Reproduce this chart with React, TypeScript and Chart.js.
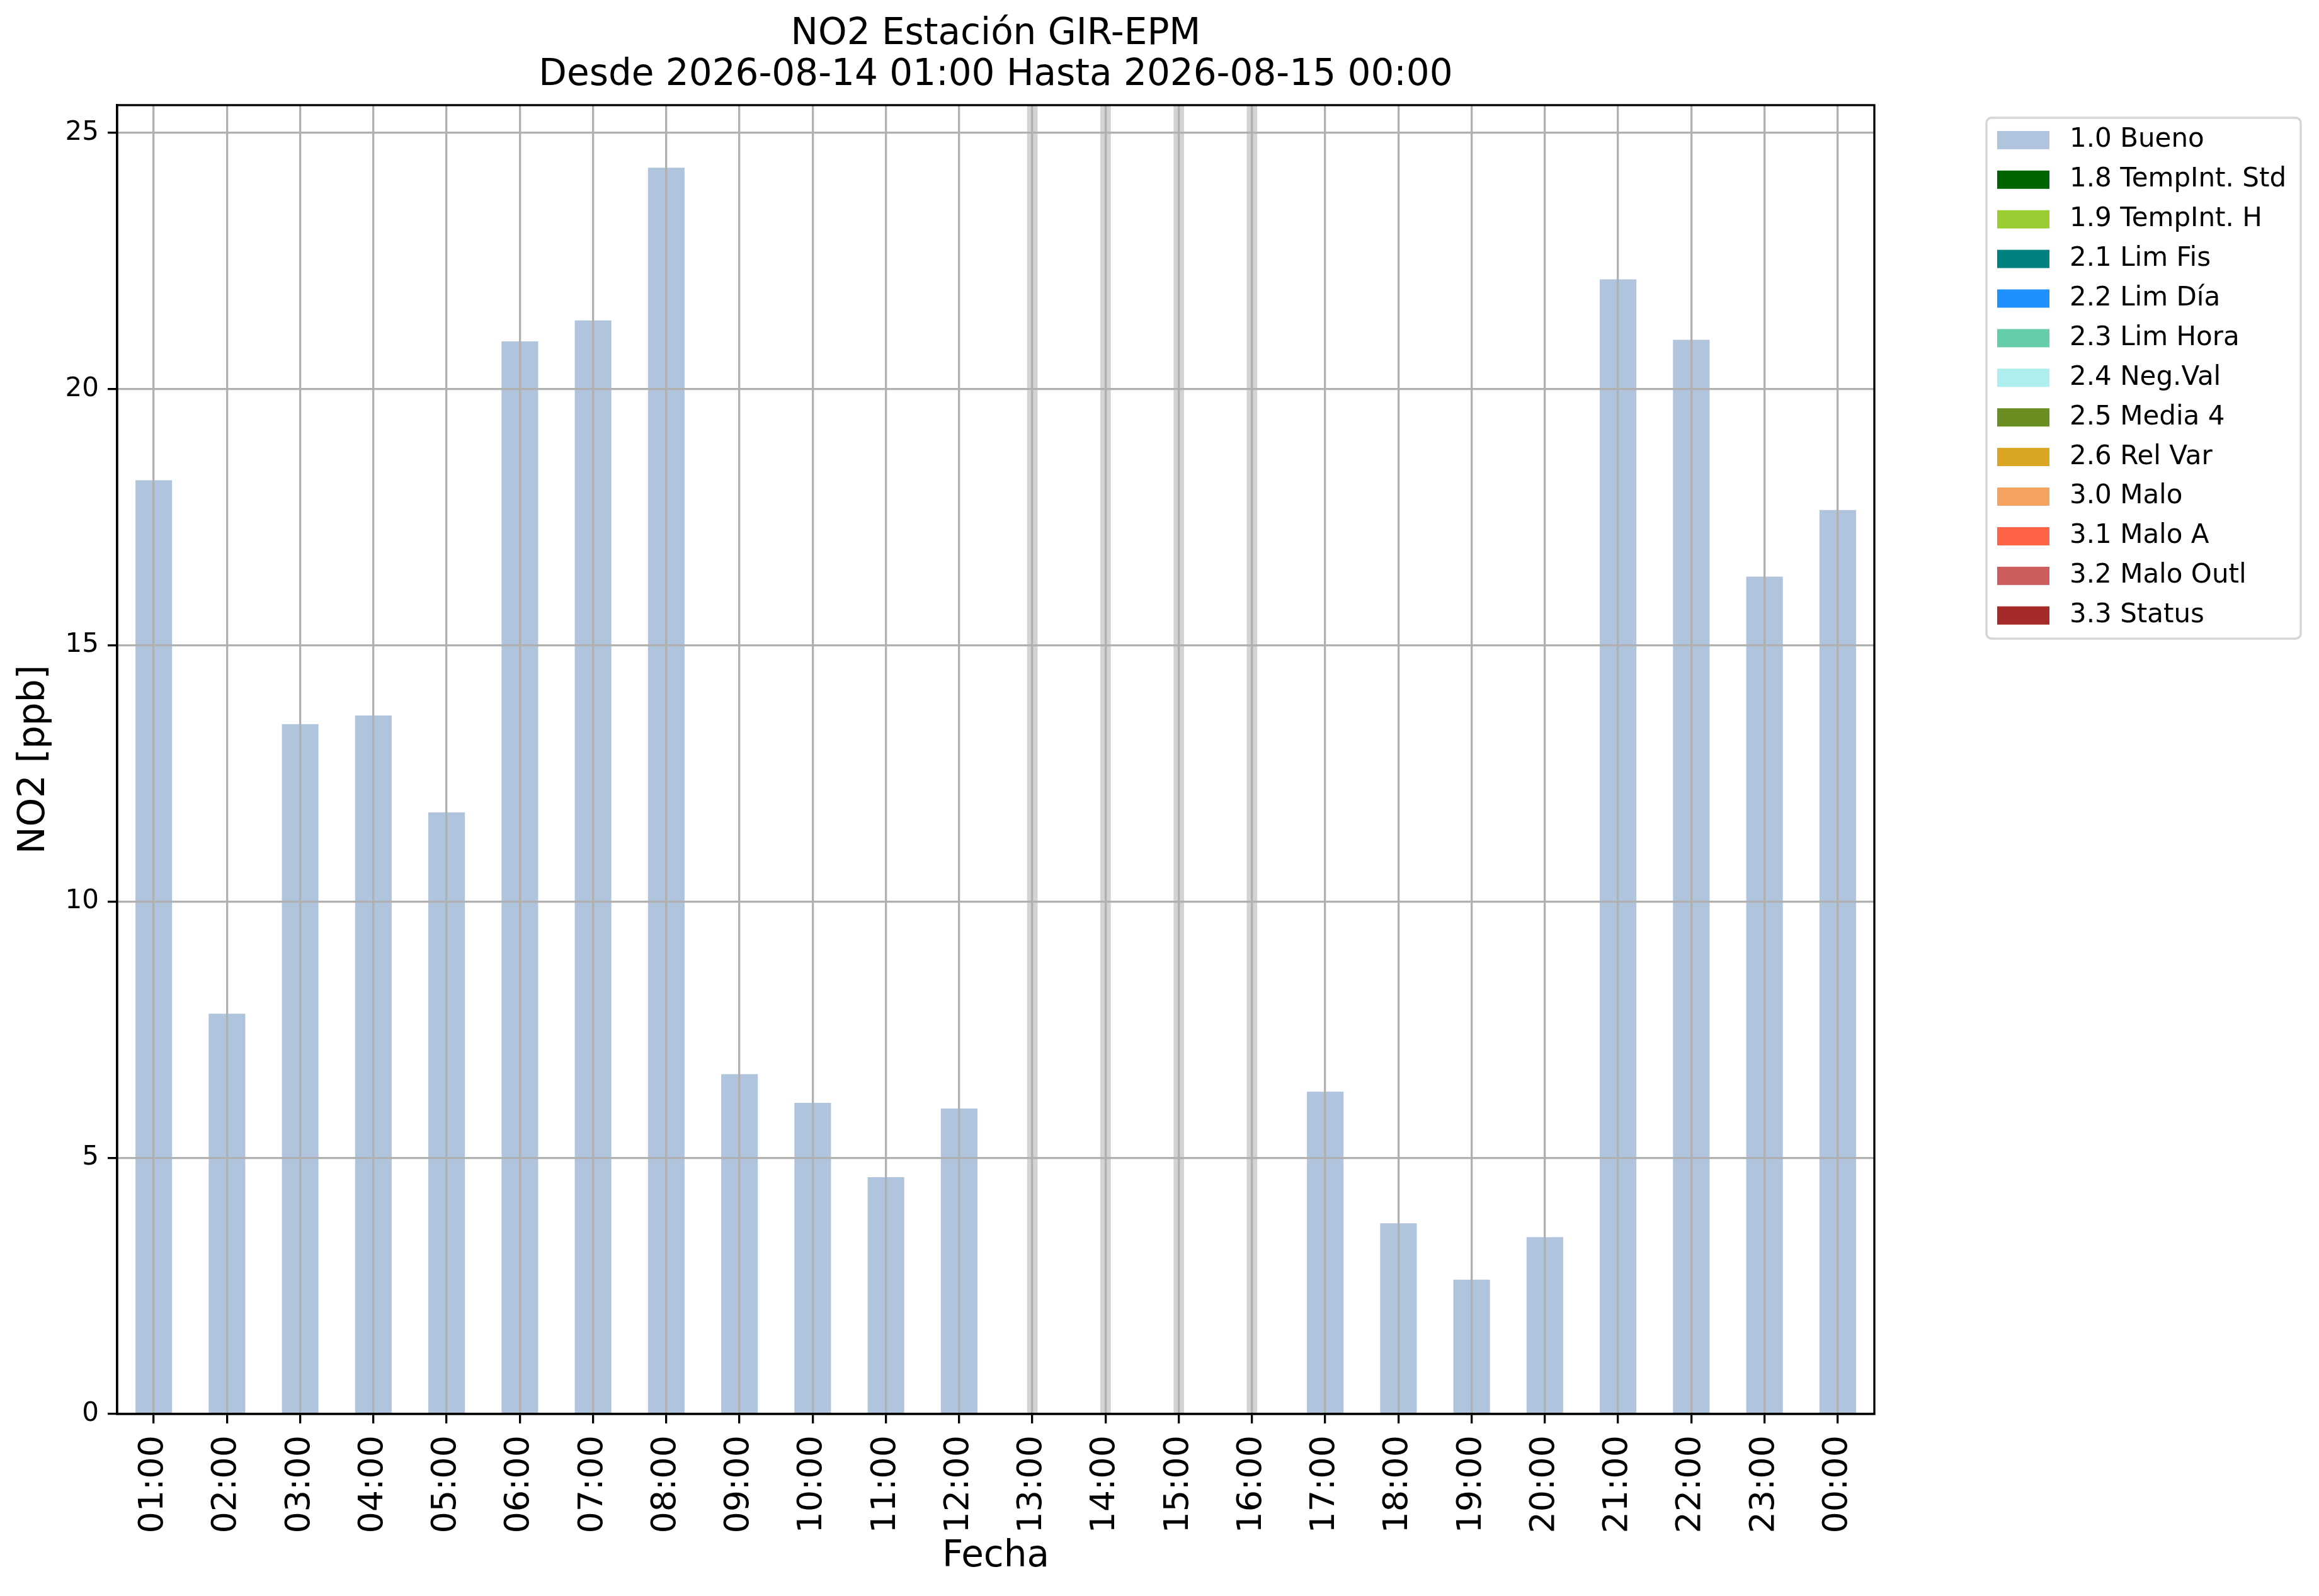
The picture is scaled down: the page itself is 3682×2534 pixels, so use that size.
import React, { useEffect, useRef } from 'react';
import { Chart, registerables } from 'chart.js';

Chart.register(...registerables);

const HOURS = [
  '01:00', '02:00', '03:00', '04:00', '05:00', '06:00', '07:00', '08:00',
  '09:00', '10:00', '11:00', '12:00', '13:00', '14:00', '15:00', '16:00',
  '17:00', '18:00', '19:00', '20:00', '21:00', '22:00', '23:00', '00:00',
];

const NO2_VALUES: (number | null)[] = [
  18.22, 7.81, 13.46, 13.63, 11.74, 20.93, 21.34, 24.32,
  6.63, 6.07, 4.62, 5.96, null, null, null, null,
  6.29, 3.72, 2.62, 3.45, 22.14, 20.96, 16.34, 17.64,
];

const QUALITY_FLAGS: (string | null)[] = [
  '1.0', '1.0', '1.0', '1.0', '1.0', '1.0', '1.0', '1.0',
  '1.0', '1.0', '1.0', '1.0', null, null, null, null,
  '1.0', '1.0', '1.0', '1.0', '1.0', '1.0', '1.0', '1.0',
];

const MISSING_HOURS = ['13:00', '14:00', '15:00', '16:00'];

const CATEGORY_CODES = ['1.0', '1.8', '1.9', '2.1', '2.2', '2.3', '2.4', '2.5', '2.6', '3.0', '3.1', '3.2', '3.3'];
const CATEGORY_LABELS = [
  '1.0 Bueno', '1.8 TempInt. Std', '1.9 TempInt. H', '2.1 Lim Fis', '2.2 Lim Día',
  '2.3 Lim Hora', '2.4 Neg.Val', '2.5 Media 4', '2.6 Rel Var', '3.0 Malo',
  '3.1 Malo A', '3.2 Malo Outl', '3.3 Status',
];
const CATEGORY_COLORS = [
  '#b0c4de', '#006400', '#9acd32', '#008080', '#1e90ff',
  '#66cdaa', '#afeeee', '#6b8e23', '#daa520', '#f4a460',
  '#ff6347', '#cd5c5c', '#a52a2a',
];

const Y_MAX = 25.54;
const Y_STEP = 5;

const TITLE_LINES = ['NO2 Estación GIR-EPM', 'Desde 2026-08-14 01:00 Hasta 2026-08-15 00:00'];
const X_TITLE = 'Fecha';
const Y_TITLE = 'NO2 [ppb]';

const W = 3682;
const H = 2534;
const FONT = 'DejaVu Sans';
const LW = 3.3;

const framePlugin = {
  id: 'mplFrame',
  afterDraw(chart: any) {
    const { ctx, chartArea: a } = chart;
    ctx.save();
    ctx.strokeStyle = '#000';
    ctx.lineWidth = LW;
    ctx.lineJoin = 'miter';
    ctx.strokeRect(a.left, a.top, a.right - a.left, a.bottom - a.top);
    ctx.restore();
  },
};

const legendPlugin = {
  id: 'mplLegend',
  afterDraw(chart: any) {
    const { ctx, chartArea: a } = chart;
    const items = chart.data.datasets.filter((d: any) => CATEGORY_LABELS.includes(d.label));
    const boxX = a.right + 178;
    const boxY = a.top + 20;
    const boxW = 499;
    const rowH = 62.9;
    const boxH = 827;
    const r = 8;
    ctx.save();
    ctx.beginPath();
    ctx.moveTo(boxX + r, boxY);
    ctx.arcTo(boxX + boxW, boxY, boxX + boxW, boxY + boxH, r);
    ctx.arcTo(boxX + boxW, boxY + boxH, boxX, boxY + boxH, r);
    ctx.arcTo(boxX, boxY + boxH, boxX, boxY, r);
    ctx.arcTo(boxX, boxY, boxX + boxW, boxY, r);
    ctx.closePath();
    ctx.fillStyle = 'rgba(255,255,255,0.8)';
    ctx.fill();
    ctx.strokeStyle = '#d6d6d6';
    ctx.lineWidth = 3.5;
    ctx.stroke();
    ctx.font = `42px "${FONT}"`;
    ctx.textBaseline = 'middle';
    ctx.textAlign = 'left';
    items.forEach((d: any, i: number) => {
      const cy = boxY + 35.5 + i * rowH;
      ctx.fillStyle = d.backgroundColor;
      ctx.fillRect(boxX + 17, cy - 14.5, 83, 29);
      ctx.fillStyle = '#000';
      ctx.fillText(d.label, boxX + 132, cy);
    });
    ctx.restore();
  },
};

export default function App() {
  const ref = useRef<HTMLCanvasElement | null>(null);

  useEffect(() => {
    document.body.style.margin = '0';
    const canvas = ref.current;
    if (!canvas) return;

    const categoryDatasets = CATEGORY_CODES.map((code, ci) => ({
      label: CATEGORY_LABELS[ci],
      data: HOURS.map((_, i) => (QUALITY_FLAGS[i] === code ? NO2_VALUES[i] : null)),
      backgroundColor: CATEGORY_COLORS[ci],
      borderWidth: 0,
      barPercentage: 0.5,
      categoryPercentage: 1.0,
    }));

    const missingDataset = {
      label: 'Sin dato',
      data: HOURS.map((h) => (MISSING_HOURS.includes(h) ? Y_MAX : null)),
      backgroundColor: '#d3d3d3',
      borderWidth: 0,
      barThickness: 16,
    };

    const chart = new Chart(canvas, {
      type: 'bar',
      data: {
        labels: HOURS,
        datasets: [missingDataset, ...categoryDatasets] as any,
      },
      plugins: [framePlugin, legendPlugin],
      options: {
        animation: false,
        responsive: false,
        maintainAspectRatio: false,
        devicePixelRatio: 1,
        events: [],
        layout: { padding: { left: 0, top: 0, right: 706, bottom: 0 } },
        plugins: {
          legend: { display: false },
          tooltip: { enabled: false },
          title: {
            display: true,
            text: TITLE_LINES,
            color: '#000',
            fullSize: false,
            font: { family: FONT, size: 58, weight: 'normal', lineHeight: 1.12 },
            padding: { top: 22, bottom: 15 },
          },
        },
        scales: {
          x: {
            type: 'category',
            offset: true,
            stacked: true,
            afterFit: (s: any) => { s.height = 289; },
            grid: {
              display: true,
              offset: false,
              z: 1,
              color: '#b0b0b0',
              lineWidth: LW,
              drawTicks: true,
              tickLength: 15,
              tickColor: '#000',
              tickWidth: LW,
            },
            border: { display: true, color: '#000', width: LW, z: 2 },
            ticks: {
              color: '#000',
              font: { family: FONT, size: 54 },
              minRotation: 90,
              maxRotation: 90,
              autoSkip: false,
              padding: 19,
            },
            title: {
              display: true,
              text: X_TITLE,
              color: '#000',
              font: { family: FONT, size: 58 },
              padding: { top: 0, bottom: 27 },
            },
          },
          y: {
            type: 'linear',
            min: 0,
            max: Y_MAX,
            stacked: false,
            afterFit: (s: any) => { s.width = 186; },
            grid: {
              display: true,
              z: 1,
              color: '#b0b0b0',
              lineWidth: LW,
              drawTicks: true,
              tickLength: 15,
              tickColor: '#000',
              tickWidth: LW,
            },
            border: { display: true, color: '#000', width: LW, z: 2 },
            ticks: {
              color: '#000',
              font: { family: FONT, size: 42 },
              stepSize: Y_STEP,
              includeBounds: false,
              padding: 14,
            },
            title: {
              display: true,
              text: Y_TITLE,
              color: '#000',
              font: { family: FONT, size: 58 },
              padding: { top: 20, bottom: 0 },
            },
          },
        },
      } as any,
    });

    return () => chart.destroy();
  }, []);

  return (
    <div style={{ position: 'fixed', left: 0, top: 0, width: W, height: H, background: '#fff' }}>
      <canvas ref={ref} width={W} height={H} style={{ display: 'block', width: W, height: H }} />
    </div>
  );
}
